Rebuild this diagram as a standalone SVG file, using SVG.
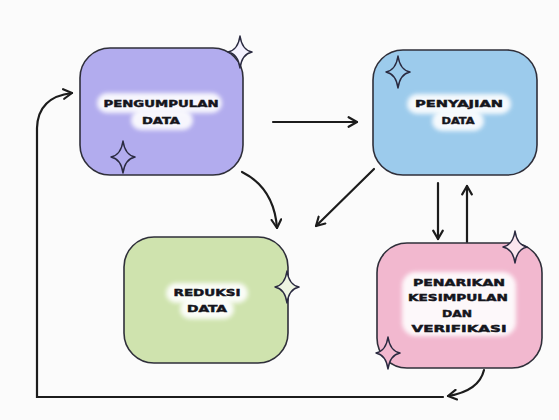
<svg xmlns="http://www.w3.org/2000/svg" width="559" height="420" viewBox="0 0 559 420">
<style>
.box{stroke:#2f2f3a;stroke-width:1.6}
.lbl{font-family:"DejaVu Sans",sans-serif;font-weight:900;font-size:9.5px;fill:#15151c;stroke:#15151c;stroke-width:0.45;text-anchor:middle}
.arr{fill:none;stroke:#1c1c1c;stroke-width:2.2;stroke-linecap:round}
.spark{stroke:#2a2a40;stroke-width:1.5;stroke-linejoin:round}
.glow{fill:#ffffff;opacity:0.9;filter:url(#blur)}
</style>
<defs>
<filter id="blur" x="-20%" y="-50%" width="140%" height="200%"><feGaussianBlur stdDeviation="2"/></filter>
<marker id="ah" viewBox="0 0 10 10" refX="8" refY="5" markerWidth="12" markerHeight="12" markerUnits="userSpaceOnUse" orient="auto">
<path d="M1,1 L8,5 L1,9" fill="none" stroke="#1c1c1c" stroke-width="1.8" stroke-linecap="round" stroke-linejoin="round"/>
</marker>
<path id="star" d="M0,-16 Q2,-2 12,0 Q2,2 0,16 Q-2,2 -12,0 Q-2,-2 0,-16 Z"/>
</defs>
<rect width="559" height="420" fill="#fbfbfb"/>

<g id="connectors">
<path class="arr" d="M273,122 H357" marker-end="url(#ah)"/>
<path class="arr" d="M242,172 Q274,188 277,228" marker-end="url(#ah)"/>
<path class="arr" d="M374,169 L316,226" marker-end="url(#ah)"/>
<path class="arr" d="M438,183 V239" marker-end="url(#ah)"/>
<path class="arr" d="M467,242 V186" marker-end="url(#ah)"/>
<path class="arr" d="M484,370 Q479,391 448,396" stroke-width="1.5" marker-end="url(#ah)"/>
<path class="arr" d="M443,397 H37 V128 Q38,97 72,93" marker-end="url(#ah)"/>
</g>

<g id="pengumpulan">
<rect class="box" x="80" y="48" width="163" height="127" rx="30" fill="#b2acee"/>
<rect class="glow" x="97" y="93" width="125" height="20" rx="10"/>
<rect class="glow" x="131" y="110" width="62" height="20" rx="10"/>
<text class="lbl" x="161" y="107" textLength="115" lengthAdjust="spacingAndGlyphs">PENGUMPULAN</text>
<text class="lbl" x="161" y="124" textLength="38" lengthAdjust="spacingAndGlyphs">DATA</text>
<use href="#star" class="spark" x="240" y="52" fill="#f4f2ff"/>
<use href="#star" class="spark" x="123" y="157" fill="#b2acee"/>
</g>

<g id="penyajian">
<rect class="box" x="373" y="50" width="164" height="125" rx="30" fill="#9ccbec"/>
<rect class="glow" x="407" y="94" width="104" height="20" rx="10"/>
<rect class="glow" x="432" y="111" width="52" height="20" rx="10"/>
<text class="lbl" x="459" y="107" textLength="88" lengthAdjust="spacingAndGlyphs">PENYAJIAN</text>
<text class="lbl" x="458" y="124" textLength="33" lengthAdjust="spacingAndGlyphs">DATA</text>
<use href="#star" class="spark" x="398" y="72" fill="#9ccbec"/>
</g>

<g id="reduksi">
<rect class="box" x="124" y="237" width="164" height="126" rx="30" fill="#cfe3ae"/>
<rect class="glow" x="166" y="283" width="82" height="20" rx="10"/>
<rect class="glow" x="180" y="299" width="54" height="20" rx="10"/>
<text class="lbl" x="207" y="296" textLength="67" lengthAdjust="spacingAndGlyphs">REDUKSI</text>
<text class="lbl" x="207" y="312" textLength="40" lengthAdjust="spacingAndGlyphs">DATA</text>
<use href="#star" class="spark" x="287" y="287" fill="#eef5e2"/>
</g>

<g id="penarikan">
<rect class="box" x="377" y="243" width="165" height="125" rx="30" fill="#f2b8cf"/>
<rect class="glow" x="402" y="272" width="114" height="64" rx="14"/>
<text class="lbl" x="459" y="286" textLength="92" lengthAdjust="spacingAndGlyphs">PENARIKAN</text>
<text class="lbl" x="458" y="301" textLength="100" lengthAdjust="spacingAndGlyphs">KESIMPULAN</text>
<text class="lbl" x="457" y="317" textLength="30" lengthAdjust="spacingAndGlyphs">DAN</text>
<text class="lbl" x="459" y="332" textLength="95" lengthAdjust="spacingAndGlyphs">VERIFIKASI</text>
<use href="#star" class="spark" x="515" y="247" fill="#fbe6ee"/>
<use href="#star" class="spark" x="388" y="353" fill="#f2b8cf"/>
</g>
</svg>
